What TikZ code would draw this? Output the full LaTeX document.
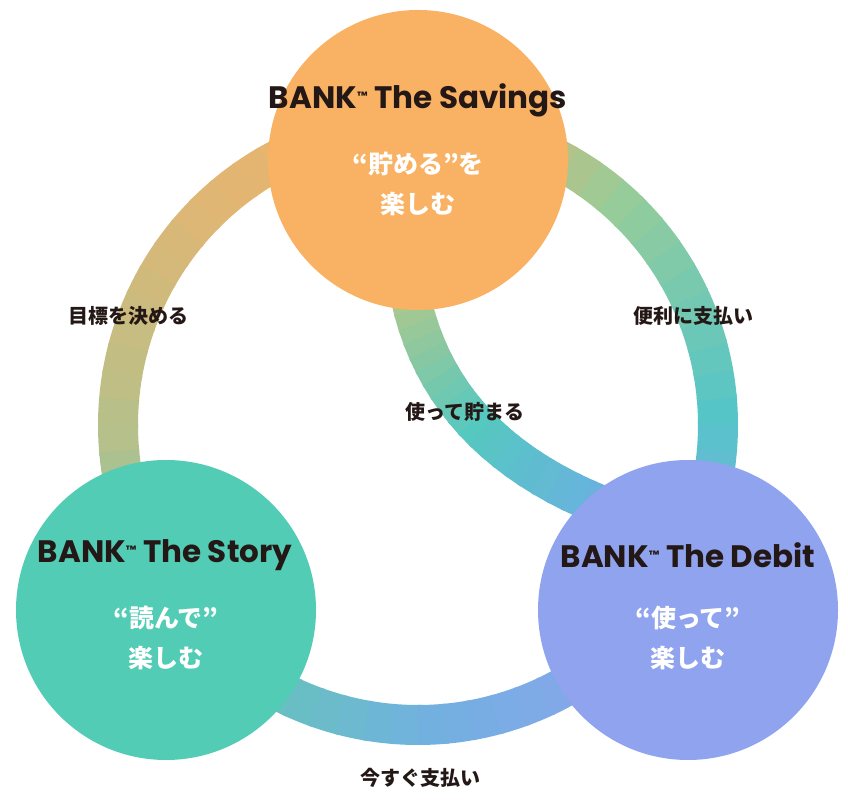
\documentclass[tikz,border=0pt]{standalone}
\usepackage{fontspec}
\setmainfont{Noto Sans CJK JP}
\newfontfamily\ttl{Poppins}
\definecolor{cOr}{HTML}{F9B264}
\definecolor{cGr}{HTML}{52CCB4}
\definecolor{cPu}{HTML}{8FA3EE}
\definecolor{cTxt}{HTML}{231815}
\definecolor{k90}{HTML}{F2B266}
\definecolor{k135}{HTML}{DDB775}
\definecolor{k180}{HTML}{B5C08A}
\definecolor{k225}{HTML}{62CAB0}
\definecolor{k270}{HTML}{72B0E0}
\definecolor{k315}{HTML}{8DA4EE}
\definecolor{k360}{HTML}{55C5C8}
\definecolor{k405}{HTML}{95CC9A}
\definecolor{q0}{HTML}{A8C890}
\definecolor{q1}{HTML}{55C8C0}
\definecolor{q2}{HTML}{6AB0E0}
\begin{document}
\begin{tikzpicture}[x=1pt,y=1pt,
  circ/.style={circle,minimum size=300pt,inner sep=0},
  title/.style={font=\ttl\bfseries\fontsize{31}{31}\selectfont,text=cTxt},
  inner/.style={font=\bfseries\fontsize{25}{40}\selectfont,text=white,align=center},
  lab/.style={font=\bfseries\fontsize{20}{20}\selectfont,text=cTxt}]
\useasboundingbox (0,0) rectangle (848,808);
\coordinate (C) at (418,383);
\foreach \a/\b/\ca/\cb in {90/135/k90/k135,135/180/k135/k180,180/225/k180/k225,225/270/k225/k270,270/315/k270/k315,315/360/k315/k360,360/405/k360/k405,405/450/k405/k90}{
  \foreach \i in {0,...,8}{
    \pgfmathsetmacro\s{\a+(\b-\a)*\i/9}
    \pgfmathsetmacro\e{\s+(\b-\a)/9+0.6}
    \pgfmathtruncatemacro\p{100-100*\i/9}
    \draw[color=\ca!\p!\cb,line width=40pt] (C) ++(\s:300) arc[start angle=\s,end angle=\e,radius=300];
  }
}
\foreach \i in {0,...,19}{
  \pgfmathsetmacro\t{\i/20}
  \pgfmathsetmacro\u{(\i+1.3)/20}
  \pgfmathsetmacro\xa{(1-\t)^2*410+2*\t*(1-\t)*440+\t^2*600}
  \pgfmathsetmacro\ya{(1-\t)^2*513+2*\t*(1-\t)*368+\t^2*303}
  \pgfmathsetmacro\xb{(1-\u)^2*410+2*\u*(1-\u)*440+\u^2*600}
  \pgfmathsetmacro\yb{(1-\u)^2*513+2*\u*(1-\u)*368+\u^2*303}
  \ifnum\i<10
    \pgfmathtruncatemacro\p{100-10*\i}\def\cc{q0!\p!q1}
  \else
    \pgfmathtruncatemacro\p{200-10*\i}\def\cc{q1!\p!q2}
  \fi
  \draw[color=\cc,line width=40pt] (\xa,\ya) -- (\xb,\yb);
}
\node[circ,fill=cOr] (sav) at (418,648) {};
\node[circ,fill=cGr] (sto) at (166,198) {};
\node[circ,fill=cPu] (deb) at (688,198) {};
\node[title] (tsav) at (418,708) {BANK{\fontsize{12}{12}\selectfont\raisebox{8pt}{™}} The Savings};
\node[title] (tsto) at (165,253) {BANK{\fontsize{12}{12}\selectfont\raisebox{8pt}{™}} The Story};
\node[title] (tdeb) at (688,253) {BANK{\fontsize{12}{12}\selectfont\raisebox{8pt}{™}} The Debit};
\node[inner] (isav) at (418,624) {“貯める”を\\楽しむ};
\node[inner] (isto) at (166,170) {“読んで”\\楽しむ};
\node[inner] (ideb) at (688,170) {“使って”\\楽しむ};
\node[lab] (l1) at (128,492) {目標を決める};
\node[lab] (l2) at (693,492) {便利に支払い};
\node[lab] (l3) at (465,396) {使って貯まる};
\node[lab] (l4) at (420,30) {今すぐ支払い};
\end{tikzpicture}
\end{document}
